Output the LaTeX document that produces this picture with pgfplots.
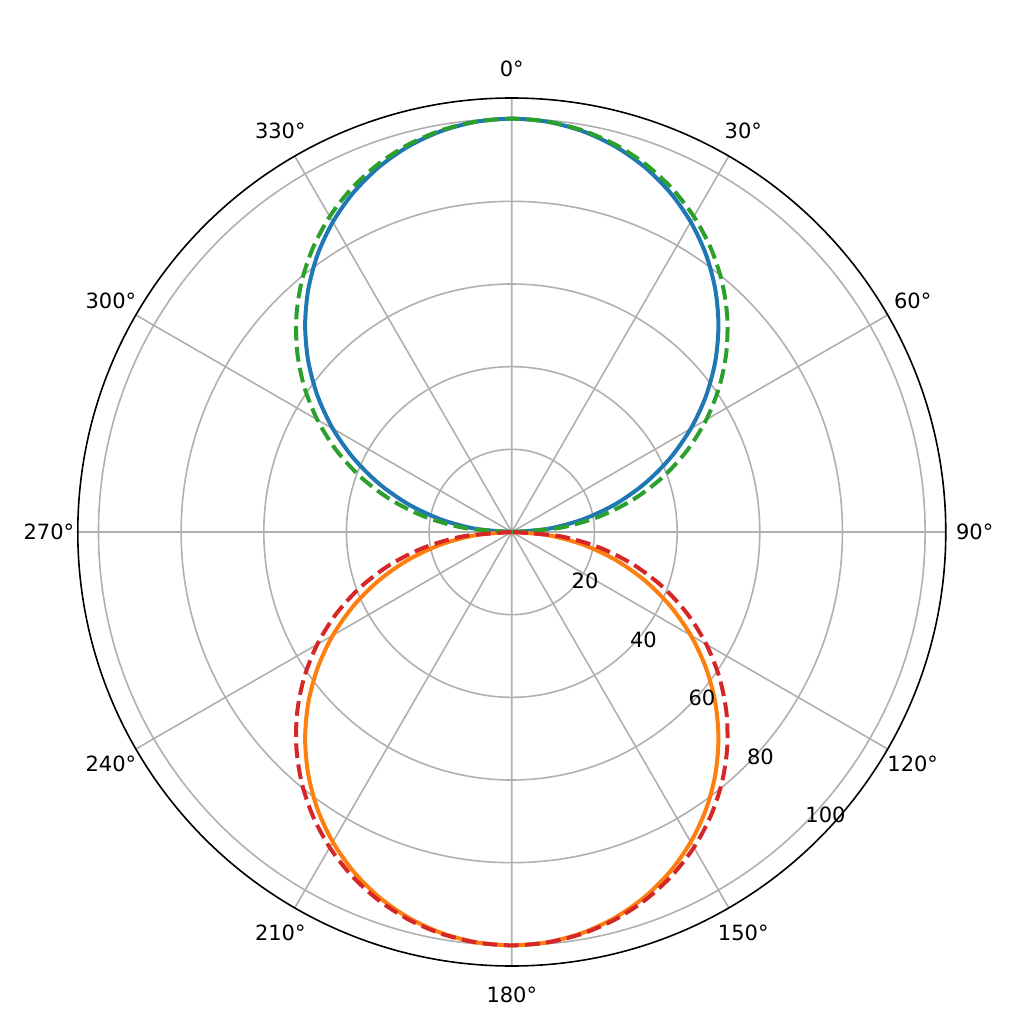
\documentclass[border=0pt]{standalone}
\usepackage{pgfplots}
\pgfplotsset{compat=1.18}
\usepgfplotslibrary{polar}
\usepackage{fontspec}
\setmainfont{DejaVu Sans}

\definecolor{mplblue}{HTML}{1F77B4}
\definecolor{mplorange}{HTML}{FF7F0E}
\definecolor{mplgreen}{HTML}{2CA02C}
\definecolor{mplred}{HTML}{D62728}
\definecolor{gridgray}{HTML}{B0B0B0}

\begin{document}
\begin{tikzpicture}
\useasboundingbox (0,0) rectangle (512pt,512pt);
\begin{polaraxis}[
    at={(255.9pt,246pt)}, anchor=center,
    scale only axis,
    width=434pt, height=434pt,
    xmin=0, xmax=360,
    ymin=0, ymax=105,
    xtick={0,30,...,330},
    xticklabels={},
    ytick={20,40,60,80,100},
    yticklabels={},
    major tick length=0pt,
    grid=major,
    major grid style={draw=gridgray, line width=0.8pt},
    x axis line style={black, line width=0.8pt},
    y axis line style={draw=none},
    clip=false,
    font=\fontsize{10.5}{12}\selectfont,
    every axis plot/.append style={line width=2pt, no marks, smooth},
  ]
  % solid circles
  \addplot[mplblue] coordinates {
    (0,0) (5,8.72) (10,17.36) (15,25.88) (20,34.20) (25,42.26) (30,50)
    (35,57.36) (40,64.28) (45,70.71) (50,76.60) (55,81.92) (60,86.60)
    (65,90.63) (70,93.97) (75,96.59) (80,98.48) (85,99.62) (90,100)
    (95,99.62) (100,98.48) (105,96.59) (110,93.97) (115,90.63) (120,86.60)
    (125,81.92) (130,76.60) (135,70.71) (140,64.28) (145,57.36) (150,50)
    (155,42.26) (160,34.20) (165,25.88) (170,17.36) (175,8.72) (180,0)
  };
  \addplot[mplorange] coordinates {
    (180,0) (185,8.72) (190,17.36) (195,25.88) (200,34.20) (205,42.26) (210,50)
    (215,57.36) (220,64.28) (225,70.71) (230,76.60) (235,81.92) (240,86.60)
    (245,90.63) (250,93.97) (255,96.59) (260,98.48) (265,99.62) (270,100)
    (275,99.62) (280,98.48) (285,96.59) (290,93.97) (295,90.63) (300,86.60)
    (305,81.92) (310,76.60) (315,70.71) (320,64.28) (325,57.36) (330,50)
    (335,42.26) (340,34.20) (345,25.88) (350,17.36) (355,8.72) (360,0)
  };
  % dashed lobes
  \addplot[mplgreen, dash pattern=on 7.4pt off 3.2pt] coordinates {
    (0,0) (5,11.68) (10,21.42) (15,30.44) (20,38.90) (25,46.87) (30,54.33)
    (35,61.31) (40,67.78) (45,73.71) (50,79.10) (55,83.90) (60,88.11)
    (65,91.71) (70,94.67) (75,97.00) (80,98.66) (85,99.66) (90,100)
    (95,99.66) (100,98.66) (105,97.00) (110,94.67) (115,91.71) (120,88.11)
    (125,83.90) (130,79.10) (135,73.71) (140,67.78) (145,61.31) (150,54.33)
    (155,46.87) (160,38.90) (165,30.44) (170,21.42) (175,11.68) (180,0)
  };
  \addplot[mplred, dash pattern=on 7.4pt off 3.2pt] coordinates {
    (180,0) (185,11.68) (190,21.42) (195,30.44) (200,38.90) (205,46.87) (210,54.33)
    (215,61.31) (220,67.78) (225,73.71) (230,79.10) (235,83.90) (240,88.11)
    (245,91.71) (250,94.67) (255,97.00) (260,98.66) (265,99.66) (270,100)
    (275,99.66) (280,98.66) (285,97.00) (290,94.67) (295,91.71) (300,88.11)
    (305,83.90) (310,79.10) (315,73.71) (320,67.78) (325,61.31) (330,54.33)
    (335,46.87) (340,38.90) (345,30.44) (350,21.42) (355,11.68) (360,0)
  };
  % angle labels (0 at top, clockwise)
  \node at (axis cs:90,112)  {0°};
  \node at (axis cs:60,112)  {30°};
  \node at (axis cs:30,112)  {60°};
  \node at (axis cs:0,112)   {90°};
  \node at (axis cs:330,112) {120°};
  \node at (axis cs:300,112) {150°};
  \node at (axis cs:270,112) {180°};
  \node at (axis cs:240,112) {210°};
  \node at (axis cs:210,112) {240°};
  \node at (axis cs:180,112) {270°};
  \node at (axis cs:150,112) {300°};
  \node at (axis cs:120,112) {330°};
  % radial labels
  \node[anchor=south west, inner sep=0.5pt] at (axis cs:315,20)  {20};
  \node[anchor=south west, inner sep=0.5pt] at (axis cs:315,40)  {40};
  \node[anchor=south west, inner sep=0.5pt] at (axis cs:315,60)  {60};
  \node[anchor=south west, inner sep=0.5pt] at (axis cs:315,80)  {80};
  \node[anchor=south west, inner sep=0.5pt] at (axis cs:315,100) {100};
\end{polaraxis}
\end{tikzpicture}
\end{document}
